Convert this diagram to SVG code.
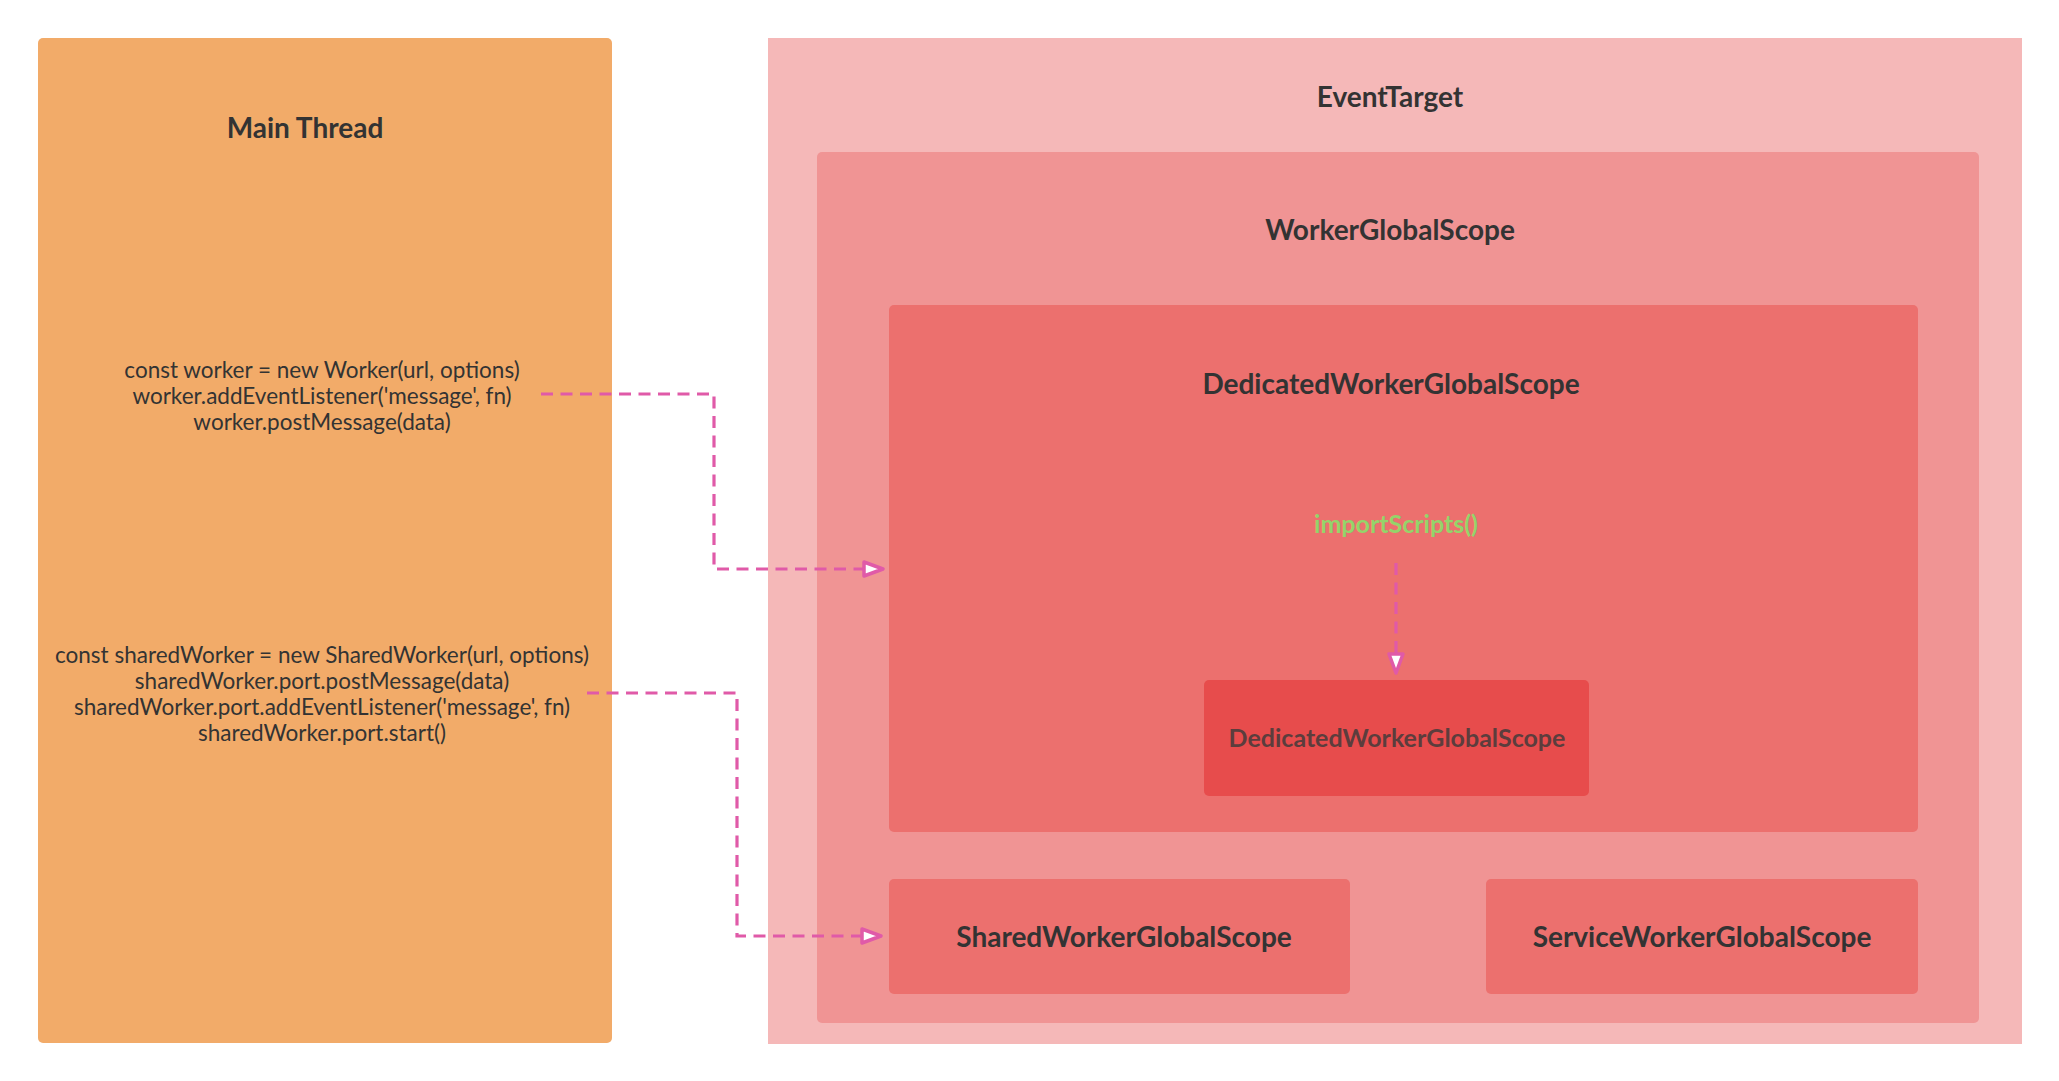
<svg xmlns="http://www.w3.org/2000/svg" width="2059" height="1081" viewBox="0 0 2059 1081">
<defs>
<style>
.t{font-family:Lato,"Liberation Sans",sans-serif;font-weight:bold;font-size:28px;fill:#333333;text-anchor:middle}
.code{font-family:Lato,"Liberation Sans",sans-serif;font-size:22.5px;fill:#333333;text-anchor:middle}
.conn{fill:none;stroke:#e05aa8;stroke-width:3.2;stroke-dasharray:12 7.5}
</style>
<marker id="arr" markerUnits="userSpaceOnUse" markerWidth="26" markerHeight="22" refX="22" refY="10" orient="auto" viewBox="0 0 26 22">
<path d="M3,3 L22,10 L3,17 Z" fill="#ffffff" stroke="#e05aa8" stroke-width="3.5" stroke-linejoin="round"/>
</marker>
</defs>
<rect width="2059" height="1081" fill="#ffffff"/>
<g id="main-thread">
<rect x="38" y="38" width="574" height="1005" rx="5" fill="#f2ab69"/>
<text class="t" x="305" y="138">Main Thread</text>
<text class="code" x="322" y="378">const worker = new Worker(url, options)</text>
<text class="code" x="322" y="404">worker.addEventListener('message', fn)</text>
<text class="code" x="322" y="430">worker.postMessage(data)</text>
<text class="code" x="322" y="663">const sharedWorker = new SharedWorker(url, options)</text>
<text class="code" x="322" y="689">sharedWorker.port.postMessage(data)</text>
<text class="code" x="322" y="715">sharedWorker.port.addEventListener('message', fn)</text>
<text class="code" x="322" y="741">sharedWorker.port.start()</text>
</g>
<g id="event-target">
<rect x="768" y="38" width="1254" height="1006" fill="#f5b8b8"/>
<text class="t" x="1390" y="107">EventTarget</text>
</g>
<g id="worker-global-scope">
<rect x="817" y="152" width="1162" height="871" rx="5" fill="#f09494"/>
<text class="t" x="1390" y="240">WorkerGlobalScope</text>
</g>
<g id="dedicated-worker-global-scope">
<rect x="889" y="305" width="1029" height="527" rx="5" fill="#ec706e"/>
<text class="t" x="1391" y="394">DedicatedWorkerGlobalScope</text>
<text x="1396" y="533" style="font-family:Lato,'Liberation Sans',sans-serif;font-weight:bold;font-size:25px;fill:#94d46a;text-anchor:middle">importScripts()</text>
</g>
<g id="dedicated-worker-global-scope-inner">
<rect x="1204" y="680" width="385" height="116" rx="5" fill="#e74c4c"/>
<text x="1397" y="747" style="font-family:Lato,'Liberation Sans',sans-serif;font-weight:bold;font-size:25px;fill:#5c3d3d;text-anchor:middle">DedicatedWorkerGlobalScope</text>
</g>
<g id="shared-worker-global-scope">
<rect x="889" y="879" width="461" height="115" rx="5" fill="#ec706e"/>
<text class="t" x="1124" y="947">SharedWorkerGlobalScope</text>
</g>
<g id="service-worker-global-scope">
<rect x="1486" y="879" width="432" height="115" rx="5" fill="#ec706e"/>
<text class="t" x="1702" y="947">ServiceWorkerGlobalScope</text>
</g>
<g id="connectors">
<path class="conn" d="M541,394 H714 V569 H883" marker-end="url(#arr)"/>
<path class="conn" d="M587,693 H737 V936 H881" marker-end="url(#arr)"/>
<path class="conn" d="M1396,563 V673" marker-end="url(#arr)"/>
</g>
</svg>
